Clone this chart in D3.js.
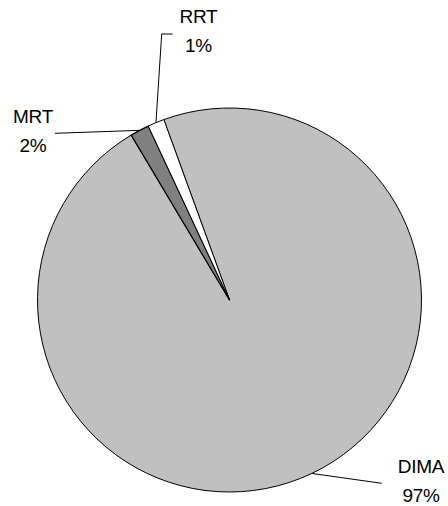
<!DOCTYPE html>
<html>
<head>
<meta charset="utf-8">
<script src="https://cdn.jsdelivr.net/npm/d3@7"></script>
<style>
  html, body { margin: 0; padding: 0; background: #fff; }
  svg { display: block; }
  text { font-family: "Liberation Sans", Arial, sans-serif; font-size: 19px; fill: #000; letter-spacing: -0.3px; }
</style>
</head>
<body>
<svg id="chart" width="448" height="506"></svg>
<script>
// Share of each system (percent)
const categories = ["DIMA", "MRT", "RRT"];
const shares = [97.0, 1.6, 1.4];
const labelText = ["97%", "2%", "1%"];
const fills = ["#c0c0c0", "#808080", "#ffffff"];

const width = 448, height = 506;
const cx = 229.5, cy = 300, radius = 192;
const startDeg = -20;

// Label boxes: centre x, first baseline, and where the leader meets the label
const labelLayout = {
  DIMA: { x: 421, y: 472.7, path: [[381.7, 483.3]] },
  MRT:  { x: 33,  y: 122.7, path: [[55, 133.3]] },
  RRT:  { x: 198.5, y: 22.7, path: [[161.7, 34], [172.7, 34]] }
};

const data = categories.map((c, i) => ({ name: c, value: shares[i], label: labelText[i], fill: fills[i] }));

const pie = d3.pie()
  .sort(null)
  .value(d => d.value)
  .startAngle(startDeg * Math.PI / 180)
  .endAngle(startDeg * Math.PI / 180 + 2 * Math.PI);

const arc = d3.arc().innerRadius(0).outerRadius(radius);

const svg = d3.select("#chart");
const g = svg.append("g").attr("transform", `translate(${cx},${cy})`);

const arcs = pie(data);

g.selectAll("path.slice")
  .data(arcs)
  .join("path")
  .attr("class", "slice")
  .attr("d", arc)
  .attr("fill", d => d.data.fill)
  .attr("stroke", "#000")
  .attr("stroke-width", d => d.data.name === "MRT" ? 1.3 : 1)
  .attr("stroke-linejoin", "round");

// Leader lines from each slice's outer edge to its label
const line = d3.line();
arcs.forEach(a => {
  const mid = (a.startAngle + a.endAngle) / 2;
  const p0 = [cx + radius * Math.sin(mid), cy - radius * Math.cos(mid)];
  const lay = labelLayout[a.data.name];
  svg.append("path")
    .attr("d", line([p0, ...lay.path]))
    .attr("fill", "none")
    .attr("stroke", "#000")
    .attr("stroke-width", 1);

  const t = svg.append("text")
    .attr("text-anchor", "middle")
    .attr("x", lay.x)
    .attr("y", lay.y);
  t.append("tspan").attr("x", lay.x).text(a.data.name);
  t.append("tspan").attr("x", lay.x).attr("dy", 29.6).text(a.data.label);
});
</script>
</body>
</html>
